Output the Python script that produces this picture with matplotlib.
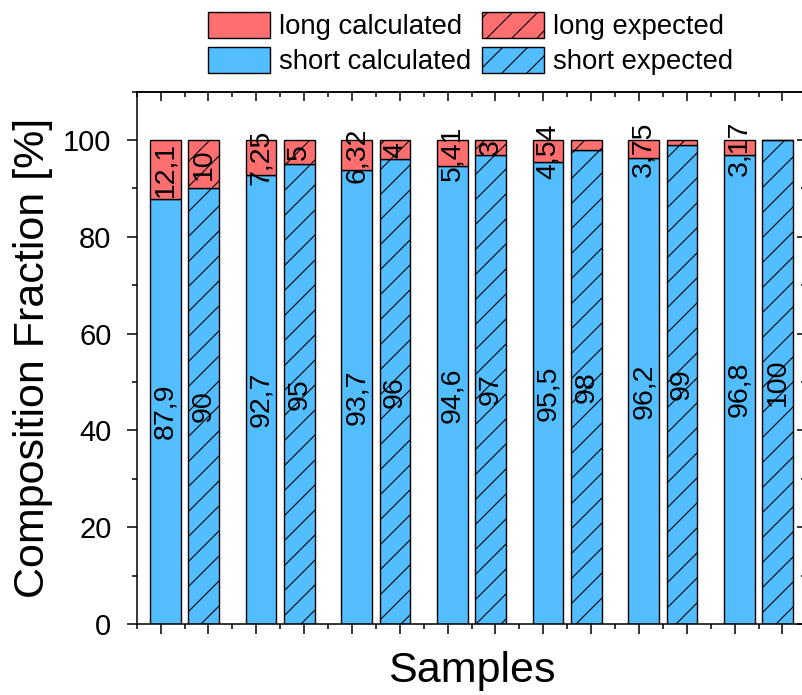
import numpy as np
import matplotlib
matplotlib.use("Agg")
import matplotlib.pyplot as plt
from matplotlib.ticker import MultipleLocator

# render at 150 dpi so the hatch spacing comes out finer; sizes below are
# given for 100 dpi and scaled by S
DPI = 150
S = 100 / DPI

plt.rcParams["font.family"] = ["Liberation Sans", "DejaVu Sans"]
plt.rcParams["hatch.linewidth"] = 0.8 * S

# composition per sample (%)
short_calc = [87.9, 92.7, 93.7, 94.6, 95.5, 96.2, 96.8]
long_calc = [12.1, 7.25, 6.32, 5.41, 4.54, 3.75, 3.17]
short_exp = [90, 95, 96, 97, 98, 99, 100]
long_exp = [10, 5, 4, 3, 2, 1, 0]

RED = "#FF6F6F"
BLUE = "#52BDFF"


def fmt(v):
    return ("%g" % v).replace(".", ",")


n = len(short_calc)
x_calc = 1.1 + 2 * np.arange(n)
x_exp = 1.9 + 2 * np.arange(n)
w = 0.64

fig = plt.figure(figsize=(802 / DPI, 695 / DPI), dpi=DPI)
ax = fig.add_axes([0.1705, 0.1022, 0.835, 0.766])

kw = dict(width=w, edgecolor="black", linewidth=1.0 * S)
sc = ax.bar(x_calc, short_calc, color=BLUE, label="short calculated", **kw)
lc = ax.bar(x_calc, long_calc, bottom=short_calc, color=RED, label="long calculated", **kw)
se = ax.bar(x_exp, short_exp, color=BLUE, hatch="//", label="short expected", **kw)
le = ax.bar(x_exp, long_exp, bottom=short_exp, color=RED, hatch="//", label="long expected", **kw)

# value labels, rotated, centred in each segment
lab = dict(rotation=90, ha="center", va="center", fontsize=20.5 * S, rotation_mode="anchor")
for i in range(n):
    ax.text(x_calc[i], short_calc[i] / 2, fmt(short_calc[i]), **lab)
    ax.text(x_calc[i], short_calc[i] + long_calc[i] / 2, fmt(long_calc[i]), **lab)
    ax.text(x_exp[i], short_exp[i] / 2, fmt(short_exp[i]), **lab)
    if long_exp[i] >= 3:
        ax.text(x_exp[i], short_exp[i] + long_exp[i] / 2, fmt(long_exp[i]), **lab)

ax.set_xlim(0.5, 14.5)
ax.set_ylim(0, 110)
ax.set_xticks(np.arange(1, 15))
ax.xaxis.set_minor_locator(MultipleLocator(1, offset=0.5))
ax.set_xticklabels([])
ax.yaxis.set_major_locator(MultipleLocator(20))
ax.yaxis.set_minor_locator(MultipleLocator(10))

ax.tick_params(which="both", direction="out", width=1.1 * S, labelsize=21 * S,
               top=False, right=False)
ax.tick_params(which="major", length=7.2 * S)
ax.tick_params(which="minor", length=3.6 * S)
ax.tick_params(axis="y", pad=11 * S)
for s in ax.spines.values():
    s.set_linewidth(1.1 * S)

# mirrored axes on top and right with inward ticks
top = ax.secondary_xaxis("top")
top.set_xticks(np.arange(1, 15))
top.xaxis.set_minor_locator(MultipleLocator(1, offset=0.5))
top.set_xticklabels([])
right = ax.secondary_yaxis("right")
right.yaxis.set_major_locator(MultipleLocator(20))
right.yaxis.set_minor_locator(MultipleLocator(10))
right.set_yticklabels([])
for sec in (top, right):
    sec.tick_params(which="both", direction="in", width=1.1 * S)
    sec.tick_params(which="major", length=6.5 * S)
    sec.tick_params(which="minor", length=3.3 * S)
    for s in sec.spines.values():
        s.set_linewidth(1.1 * S)

ax.set_xlabel("Samples", fontsize=31 * S)
ax.xaxis.set_label_coords(0.5, -0.05)
ax.xaxis.label.set_va("top")
ax.set_ylabel("Composition Fraction [%]", fontsize=31 * S)
ax.yaxis.set_label_coords(-0.125, 0.5)

fig.legend(handles=[lc, sc, le, se], ncol=2, loc="upper left",
           bbox_to_anchor=(208 / 802, 1 - 12 / 695), frameon=False,
           fontsize=19.8 * S, borderpad=0, borderaxespad=0,
           handlelength=2.25, handleheight=1.09, handletextpad=0.33,
           columnspacing=0.4, labelspacing=0.22)

fig.savefig("out.png", dpi=DPI)
